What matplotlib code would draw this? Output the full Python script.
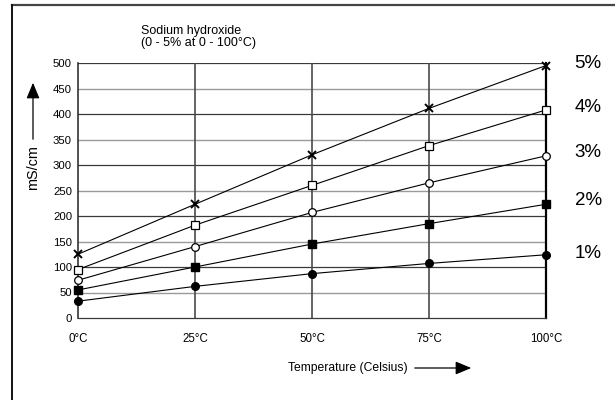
import numpy as np
import matplotlib
matplotlib.use("Agg")
import matplotlib.pyplot as plt
from matplotlib.patches import FancyArrowPatch

plt.rcParams['font.family'] = ['Liberation Sans', 'DejaVu Sans']

# temperatures and conductivity readings (mS/cm) for each concentration
temps = [0, 25, 50, 75, 100]
temp_labels = ["0°C", "25°C", "50°C", "75°C", "100°C"]
naoh_5 = [125, 223, 320, 411, 495]
naoh_4 = [95, 182, 260, 338, 408]
naoh_3 = [74, 140, 207, 265, 318]
naoh_2 = [55, 100, 145, 185, 223]
naoh_1 = [33, 62, 87, 107, 124]
conc_labels = ["5%", "4%", "3%", "2%", "1%"]
label_y = [500, 413, 325, 231, 127]

fig = plt.figure(figsize=(6.15, 4), dpi=100)
ax = fig.add_axes([0.1268, 0.205, 0.761, 0.6375])

# outer frame (top and left visible)
fig.add_artist(plt.Line2D([12/615, 1.0], [1-5/400, 1-5/400], color="#444444", lw=1.6,
                          transform=fig.transFigure))
fig.add_artist(plt.Line2D([12/615, 12/615], [0, 1-5/400], color="#111111", lw=1.4,
                          transform=fig.transFigure))

# gridlines
for v in range(50, 500, 100):
    ax.axhline(v, color="#9a9a9a", lw=1.0, zorder=1)
for v in range(100, 501, 100):
    ax.axhline(v, color="#3a3a3a", lw=0.9, zorder=1)
for t in temps[1:-1]:
    ax.axvline(t, color="#4a4a4a", lw=1.2, zorder=1)

mk = dict(color="black", lw=0.8, ms=5.5, zorder=3, clip_on=False)
ax.plot(temps, naoh_5, marker="x", mew=1.4, **mk)
ax.plot(temps, naoh_4, marker="s", mfc="white", mec="black", mew=0.9, **mk)
ax.plot(temps, naoh_3, marker="o", mfc="white", mec="black", mew=0.9, **mk)
ax.plot(temps, naoh_2, marker="s", mfc="black", **mk)
ax.plot(temps, naoh_1, marker="o", mfc="black", **mk)

ax.set_xlim(0, 100)
ax.set_ylim(0, 500)
ax.spines["top"].set_visible(False)
ax.spines["left"].set_color("#333333")
ax.spines["left"].set_linewidth(1.2)
ax.spines["bottom"].set_color("#3a3a3a")
ax.spines["bottom"].set_linewidth(0.9)
ax.spines["right"].set_color("black")
ax.spines["right"].set_linewidth(1.6)

ax.set_xticks(temps)
ax.set_xticklabels(temp_labels, fontsize=8.3)
ax.set_xticks([0, 100], minor=True)
ax.tick_params(axis="x", which="major", length=0, pad=10.5)
ax.tick_params(axis="x", which="minor", length=5, width=1.2, color="#333333")
ax.set_yticks(range(0, 501, 50))
ax.tick_params(axis="y", length=0, labelsize=8.2, pad=4.3)

for lab, y in zip(conc_labels, label_y):
    ax.text(1.09, y, lab, transform=ax.get_yaxis_transform(), fontsize=13.5,
            ha="center", va="center")

fig.text(141/615, 1-25/400, "Sodium hydroxide\n(0 - 5% at 0 - 100°C)", fontsize=9,
         ha="left", va="top", linespacing=0.95)

# y axis label with arrow
fig.text(33/615, 1-168/400, "mS/cm", rotation=90, fontsize=10.4, ha="center", va="center")
fig.add_artist(FancyArrowPatch((33/615, 1-142/400), (33/615, 1-80/400),
                               transform=fig.transFigure, arrowstyle="-|>,head_length=0.6,head_width=0.25",
                               mutation_scale=16, color="black", lw=0.9))

# x axis label with arrow
fig.text(288/615, 1-368/400, "Temperature (Celsius)", fontsize=8.7, ha="left", va="center")
fig.add_artist(FancyArrowPatch((412/615, 1-368/400), (474/615, 1-368/400),
                               transform=fig.transFigure, arrowstyle="-|>,head_length=0.6,head_width=0.25",
                               mutation_scale=16, color="black", lw=0.9))

fig.savefig("out.png", dpi=100)
